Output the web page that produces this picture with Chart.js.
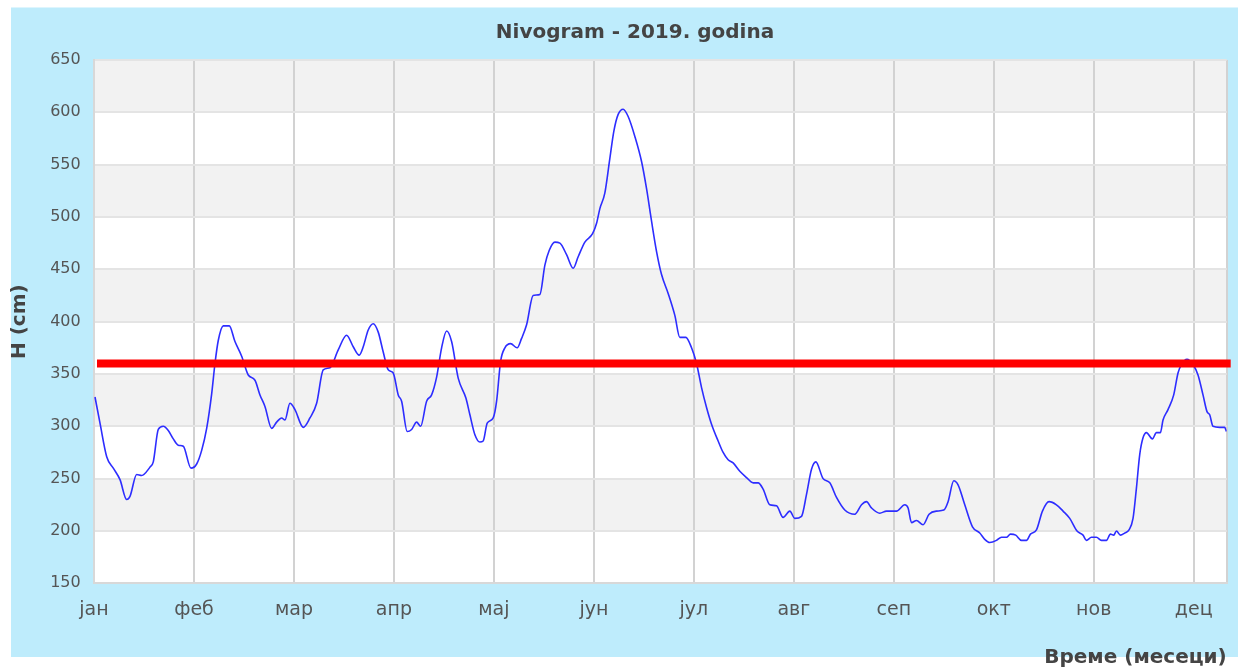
<!DOCTYPE html>
<html>
<head>
<meta charset="utf-8">
<script src="https://cdn.jsdelivr.net/npm/chart.js@4.4.0/dist/chart.umd.min.js"></script>
<style>
html,body{margin:0;padding:0;background:#ffffff;overflow:hidden;}
canvas{display:block;}
</style>
</head>
<body>
<canvas id="c" width="1238" height="667"></canvas>
<script>
// Month tick labels (x axis, one unit per month)
const monthLabels = ['јан','феб','мар','апр','мај','јун','јул','авг','сеп','окт','нов','дец'];
// Y ticks
const yMin = 150, yMax = 650, yStep = 50;
// Threshold level (cm)
const thresholdLevel = 360;
const thresholdStart = 0.03, thresholdEnd = 11.37;
const xMax = 11.33;

// Water level series: position in months (0 = 1 Jan) and level H (cm)
const levelPos = [
0.01,0.06,0.127,0.193,0.26,0.327,0.36,0.427,0.477,0.56,0.593,0.643,0.693,0.743,0.793,0.843,0.893,0.97,
1.027,1.077,1.127,1.177,1.21,1.243,1.293,1.353,1.41,1.477,1.543,1.61,1.66,1.71,1.777,1.827,1.877,1.91,1.96,
2.01,2.093,2.16,2.227,2.293,2.36,2.443,2.527,2.593,2.653,2.693,2.743,2.793,2.843,2.893,2.943,2.993,
3.043,3.077,3.133,3.177,3.227,3.267,3.327,3.377,3.427,3.477,3.527,3.577,3.643,3.72,3.76,3.81,3.86,3.893,3.933,3.993,
4.027,4.067,4.11,4.167,4.233,4.277,4.327,4.393,4.46,4.51,4.553,4.61,4.66,4.727,4.793,4.843,4.91,4.987,
5.027,5.06,5.11,5.16,5.2,5.243,5.293,5.343,5.41,5.477,5.527,5.577,5.627,5.677,5.743,5.81,5.86,5.92,5.977,
6.027,6.077,6.127,6.177,6.243,6.293,6.343,6.393,6.46,6.527,6.593,6.643,6.693,6.76,6.827,6.893,6.96,
7.01,7.077,7.127,7.177,7.22,7.293,7.36,7.427,7.51,7.61,7.677,7.727,7.777,7.86,7.927,
8.027,8.11,8.143,8.177,8.227,8.293,8.353,8.427,8.5,8.543,8.6,8.643,8.71,8.787,8.86,8.91,8.96,
9.027,9.077,9.127,9.167,9.22,9.277,9.327,9.367,9.427,9.487,9.553,9.627,9.693,9.76,9.833,9.893,9.927,9.977,
10.027,10.077,10.127,10.167,10.2,10.227,10.267,10.31,10.353,10.393,10.427,10.46,10.493,10.527,10.587,10.627,10.667,10.693,10.743,10.8,10.843,10.877,10.933,10.993,
11.043,11.093,11.133,11.16,11.193,11.26,11.31,11.327
];
const levelValues = [
328,303,271,260,249,230,233,254,253,261,266,297,300,296,288,282,281,260,
264,277,298,331,360,382,396,396,381,367,349,344,330,319,298,304,308,306,322,
316,299,308,322,354,356,373,387,376,368,376,392,398,390,371,354,351,
330,324,295,297,304,300,324,330,347,375,391,381,346,327,311,292,285,286,303,308,
324,362,375,379,375,384,397,425,426,454,468,476,475,464,451,462,476,484,
494,508,523,556,582,598,603,596,577,553,527,496,467,445,427,406,385,385,375,
360,337,318,302,286,275,268,265,257,251,246,246,240,225,224,213,219,
212,214,235,259,266,250,246,232,220,216,225,228,222,217,219,
219,225,222,208,210,206,216,219,220,228,248,244,225,204,198,192,189,
191,194,194,197,196,191,191,197,201,219,228,225,219,212,200,196,191,194,
194,191,191,197,196,200,196,198,201,212,241,273,289,294,288,294,294,306,316,330,351,359,364,359,
349,330,314,311,300,299,299,295
];

const levelData = levelPos.map((x, i) => ({x: x, y: levelValues[i]}));
const thresholdData = [{x: thresholdStart, y: thresholdLevel}, {x: thresholdEnd, y: thresholdLevel}];

const bgPlugin = {
  id: 'bg',
  beforeDraw(chart) {
    const ctx = chart.ctx;
    const ca = chart.chartArea;
    const ys = chart.scales.y;
    ctx.save();
    ctx.fillStyle = 'rgb(190,236,252)';
    ctx.fillRect(11, 7.5, 1227, 649.5);
    // alternating bands
    for (let v = yMin, k = 0; v < yMax; v += yStep, k++) {
      const top = ys.getPixelForValue(v + yStep);
      const bot = ys.getPixelForValue(v);
      ctx.fillStyle = (k % 2 === 0) ? '#ffffff' : '#f2f2f2';
      ctx.fillRect(ca.left, top, ca.right - ca.left, bot - top);
    }
    ctx.restore();
  }
};

new Chart(document.getElementById('c'), {
  type: 'line',
  data: {
    datasets: [
      {
        label: 'H',
        data: levelData,
        borderColor: 'rgb(45,45,255)',
        borderWidth: 1.6,
        pointRadius: 0,
        cubicInterpolationMode: 'monotone',
        fill: false,
        order: 1
      },
      {
        label: 'granica',
        data: thresholdData,
        borderColor: '#ff0000',
        borderWidth: 8,
        pointRadius: 0,
        fill: false,
        clip: false,
        order: 0
      }
    ]
  },
  options: {
    responsive: false,
    animation: false,
    devicePixelRatio: 1,
    events: [],
    layout: { padding: { left: 43.3, right: 11.3, top: 0, bottom: 0 } },
    plugins: {
      legend: { display: false },
      tooltip: { enabled: false },
      title: {
        display: true,
        text: 'Nivogram - 2019. godina',
        color: '#444444',
        font: { family: 'DejaVu Sans', size: 20, weight: 'bold', lineHeight: 1.2 },
        padding: { top: 20.4, bottom: 15.6 }
      }
    },
    scales: {
      x: {
        type: 'linear',
        min: 0,
        max: xMax,
        afterBuildTicks(scale) {
          const t = monthLabels.map((_, i) => ({ value: i }));
          t.push({ value: xMax });
          scale.ticks = t;
        },
        afterFit(scale) {
          scale.height = 83.7;
          scale.paddingRight = 0;
          scale.paddingLeft = 0;
        },
        ticks: {
          autoSkip: false,
          maxRotation: 0,
          padding: 15,
          color: '#555555',
          font: { family: 'DejaVu Sans', size: 19 },
          callback: (v) => Number.isInteger(v) ? (monthLabels[v] || '') : ''
        },
        grid: { color: '#d2d2d2', lineWidth: 2, drawTicks: false },
        border: { color: '#d8d8d8', width: 2 },
        title: {
          display: true,
          text: 'Време (месеци)',
          align: 'end',
          color: '#444444',
          font: { family: 'DejaVu Sans', size: 20, weight: 'bold', lineHeight: 1.2 },
          padding: { top: 0, bottom: -2.5 }
        }
      },
      y: {
        min: yMin,
        max: yMax,
        afterFit(scale) { scale.width = 50.7; },
        ticks: {
          stepSize: yStep,
          padding: 13.3,
          color: '#555555',
          font: { family: 'DejaVu Sans', size: 16 }
        },
        grid: { color: '#e4e4e4', lineWidth: 2, drawTicks: false },
        border: { color: '#d8d8d8', width: 2 },
        title: {
          display: true,
          text: 'H (cm)',
          color: '#444444',
          font: { family: 'DejaVu Sans', size: 20, weight: 'bold', lineHeight: 1.2 },
          padding: { top: -35.3, bottom: 0 }
        }
      }
    }
  },
  plugins: [bgPlugin]
});
</script>
</body>
</html>
